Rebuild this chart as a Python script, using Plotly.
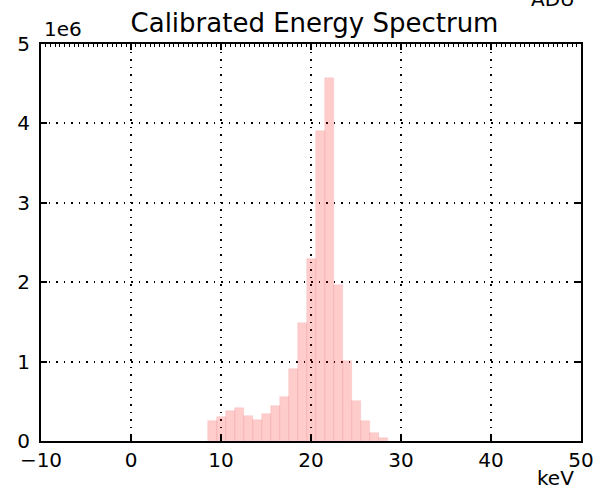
import plotly.graph_objects as go

# Histogram of calibrated energies: bin centres (keV), 1 keV wide, counts in units of 1e6
bin_centers = [9, 10, 11, 12, 13, 14, 15, 16, 17, 18, 19, 20, 21, 22, 23, 24, 25, 26, 27, 28]
counts_1e6 = [0.25, 0.30, 0.38, 0.41, 0.31, 0.27, 0.34, 0.44, 0.55, 0.91,
              1.48, 2.29, 3.90, 4.57, 1.96, 1.01, 0.50, 0.25, 0.10, 0.04]
bin_width = 1.0

x_ticks = [-10, 0, 10, 20, 30, 40, 50]
x_tick_text = ["\u221210", "0", "10", "20", "30", "40", "50"]
y_ticks = [0, 1, 2, 3, 4, 5]

FONT = "DejaVu Sans"
GRID_DASH = "1.5px,6px"

fig = go.Figure()
fig.add_trace(go.Bar(
    x=bin_centers,
    y=[c * 1e6 for c in counts_1e6],
    width=bin_width,
    marker=dict(color="rgba(255,0,0,0.2)", line=dict(color="rgba(230,120,120,0.25)", width=0.6)),
    showlegend=False,
    hoverinfo="skip",
))
# empty trace so the secondary (top) axis is drawn
fig.add_trace(go.Scatter(x=[-10, 50], y=[0, 0], xaxis="x2", mode="lines",
                         line=dict(width=0), showlegend=False, hoverinfo="skip"))

fig.update_layout(
    width=606, height=491,
    margin=dict(l=41, r=18, t=44, b=50),
    paper_bgcolor="white", plot_bgcolor="white",
    font=dict(family=FONT, size=20, color="black"),
    bargap=0,
    title=dict(text="Calibrated Energy Spectrum", x=(41 + 588) / 2 / 606, xanchor="center",
               y=1 - 23 / 491, yanchor="middle", font=dict(size=26, family=FONT)),
    xaxis=dict(
        range=[-10, 50], tickvals=x_ticks, ticktext=x_tick_text,
        ticks="inside", ticklen=6, tickwidth=2, tickcolor="black",
        showline=True, linecolor="black", linewidth=2, mirror="ticks",
        showgrid=True, gridcolor="black", griddash=GRID_DASH, gridwidth=1.5,
        zeroline=False, tickfont=dict(size=20),
    ),
    xaxis2=dict(
        range=[-10, 50], overlaying="x", side="top", anchor="y",
        dtick=0.527, tick0=-10, ticks="inside", ticklen=3, tickwidth=1, tickcolor="black",
        showticklabels=False, showgrid=False, zeroline=False, showline=False,
    ),
    yaxis=dict(
        range=[0, 5e6], tickvals=[v * 1e6 for v in y_ticks], ticktext=[str(v) for v in y_ticks],
        ticks="inside", ticklen=6, tickwidth=2, tickcolor="black",
        showline=True, linecolor="black", linewidth=2, mirror="ticks",
        showgrid=True, gridcolor="black", griddash=GRID_DASH, gridwidth=1.5,
        zeroline=False, tickfont=dict(size=20), ticklabelstandoff=5,
    ),
    annotations=[
        dict(text="1e6", xref="paper", yref="paper", x=0.002, y=(441 - 28.5) / 397,
             xanchor="left", yanchor="middle", showarrow=False, font=dict(size=20)),
        dict(text="keV", xref="paper", yref="paper", x=(583 - 41) / 547, y=-(478 - 441) / 397,
             xanchor="right", yanchor="middle", showarrow=False, font=dict(size=20)),
        dict(text="ADU", xref="paper", yref="paper", x=(584 - 41) / 547, y=(441 + 1) / 397,
             xanchor="right", yanchor="middle", showarrow=False, font=dict(size=20)),
    ],
)

fig.write_html("out.html")
